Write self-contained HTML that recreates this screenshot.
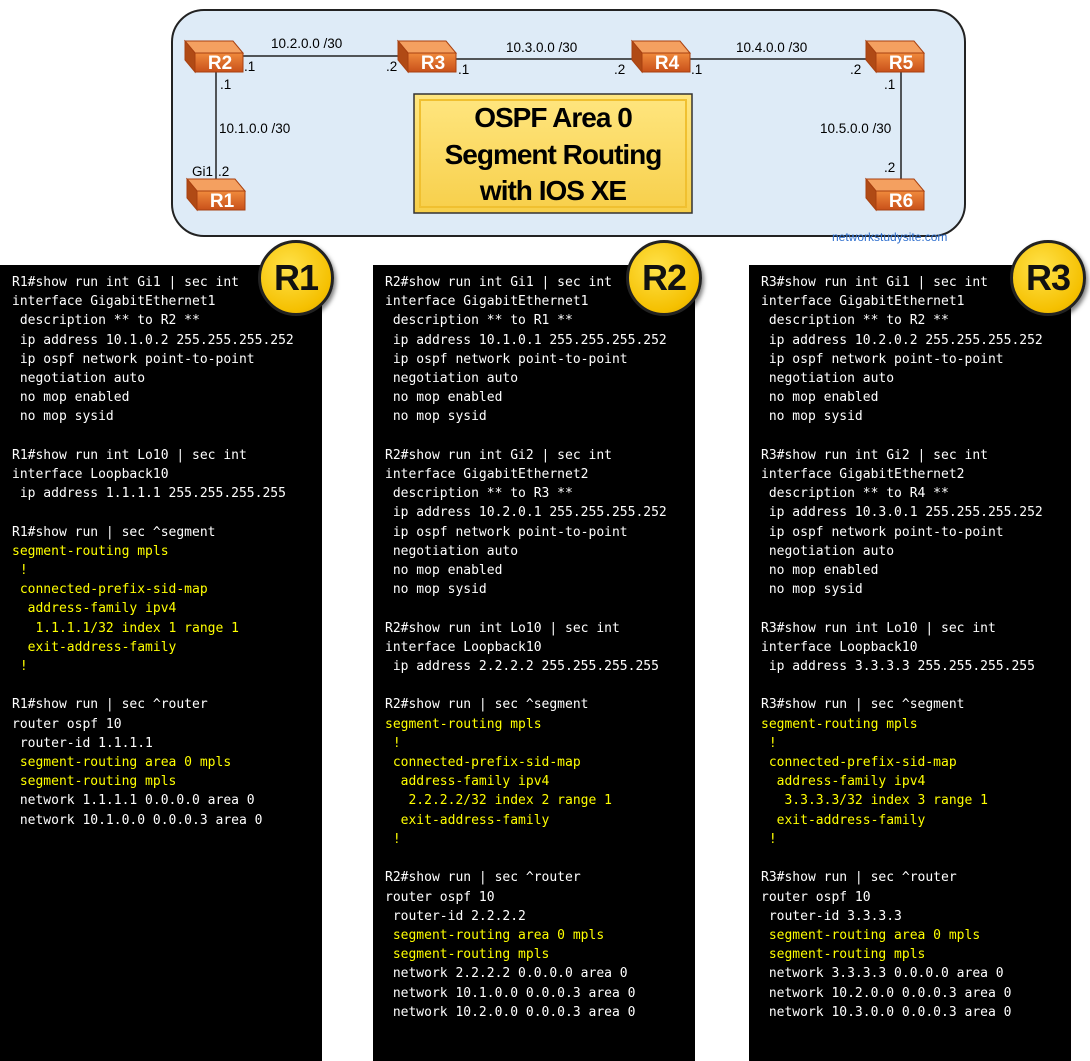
<!DOCTYPE html>
<html><head><meta charset="utf-8"><style>
body{margin:0;width:1090px;height:1061px;background:#fff;position:relative;overflow:hidden;font-family:"Liberation Sans",sans-serif}
.p{position:absolute;top:265px;height:796px;width:322px;background:#000}
pre{margin:0;position:absolute;left:12px;top:273px;font-family:"DejaVu Sans Mono","Liberation Mono",monospace;font-size:13px;line-height:19.2px;color:#fff}
.y{color:#ffff00}
.b{position:absolute;width:70px;height:70px;border-radius:50%;background:radial-gradient(circle at 40% 35%,#ffe24a,#f5c000 70%,#d9a000);border:3px solid #222;box-shadow:2px 3px 4px rgba(0,0,0,.5);font-size:36px;font-weight:bold;color:#111;text-align:center;line-height:70px;letter-spacing:-1px}
</style></head><body>
<svg width="1090" height="250" style="position:absolute;left:0;top:0">
<defs>
<linearGradient id="f" x1="0" y1="0" x2="0" y2="1"><stop offset="0" stop-color="#f08a3c"/><stop offset="1" stop-color="#c8501a"/></linearGradient>
<linearGradient id="yb" x1="0" y1="0" x2="0" y2="1"><stop offset="0" stop-color="#ffe680"/><stop offset="1" stop-color="#f7cf4a"/></linearGradient>
<g id="rt">
<polygon points="0,2 48,2 58,14 10,14" fill="#f4a060" stroke="#a84010" stroke-width="1"/>
<polygon points="0,2 10,14 10,33 0,21" fill="#b04a15" stroke="#a84010" stroke-width="1"/>
<rect x="10" y="14" width="48" height="19" fill="url(#f)" stroke="#a84010" stroke-width="1"/>
</g>
</defs>
<rect x="172" y="10" width="793" height="226" rx="32" fill="#deebf7" stroke="#222" stroke-width="2"/>
<g stroke="#222" stroke-width="1.5">
<line x1="240" y1="56" x2="402" y2="56"/><line x1="455" y1="59" x2="636" y2="59"/><line x1="688" y1="59" x2="870" y2="59"/>
<line x1="216" y1="70" x2="216" y2="182"/><line x1="901" y1="72" x2="901" y2="182"/>
</g>
<use href="#rt" x="185" y="39"/><use href="#rt" x="398" y="39"/><use href="#rt" x="632" y="39"/><use href="#rt" x="866" y="39"/>
<use href="#rt" x="187" y="177"/><use href="#rt" x="866" y="177"/>
<g fill="#fff" font-size="19" font-weight="bold" text-anchor="middle">
<text x="220" y="69">R2</text><text x="433" y="69">R3</text><text x="667" y="69">R4</text><text x="901" y="69">R5</text><text x="222" y="207">R1</text><text x="901" y="207">R6</text>
</g>
<g fill="#000" font-size="13.5">
<text x="271" y="48">10.2.0.0 /30</text><text x="506" y="52">10.3.0.0 /30</text><text x="736" y="52">10.4.0.0 /30</text>
<text x="219" y="133">10.1.0.0 /30</text><text x="820" y="133">10.5.0.0 /30</text>
<text x="244" y="71">.1</text><text x="386" y="71">.2</text><text x="458" y="74">.1</text><text x="614" y="74">.2</text><text x="691" y="74">.1</text><text x="850" y="74">.2</text>
<text x="220" y="89">.1</text><text x="884" y="89">.1</text><text x="192" y="176">Gi1</text><text x="218" y="176">.2</text><text x="884" y="172">.2</text>
</g>
<rect x="414" y="94" width="278" height="119" fill="url(#yb)" stroke="#333" stroke-width="1.5"/>
<rect x="420" y="100" width="266" height="107" fill="none" stroke="#f0c030" stroke-width="2"/>
<g fill="#000" font-size="28" font-weight="bold" text-anchor="middle" letter-spacing="-1">
<text x="553" y="127">OSPF Area 0</text><text x="553" y="164">Segment Routing</text><text x="553" y="200">with IOS XE</text>
</g>
<text x="832" y="241" fill="#2e6fcf" font-size="12">networkstudysite.com</text>
</svg>
<div class="p" style="left:0"></div>
<div class="p" style="left:373px"></div>
<div class="p" style="left:749px"></div>
<pre style="left:12px">R1#show run int Gi1 | sec int
interface GigabitEthernet1
 description ** to R2 **
 ip address 10.1.0.2 255.255.255.252
 ip ospf network point-to-point
 negotiation auto
 no mop enabled
 no mop sysid

R1#show run int Lo10 | sec int
interface Loopback10
 ip address 1.1.1.1 255.255.255.255

R1#show run | sec ^segment
<span class="y">segment-routing mpls
 !
 connected-prefix-sid-map
  address-family ipv4
   1.1.1.1/32 index 1 range 1
  exit-address-family
 !</span>

R1#show run | sec ^router
router ospf 10
 router-id 1.1.1.1
<span class="y"> segment-routing area 0 mpls
 segment-routing mpls</span>
 network 1.1.1.1 0.0.0.0 area 0
 network 10.1.0.0 0.0.0.3 area 0</pre>
<pre style="left:385px">R2#show run int Gi1 | sec int
interface GigabitEthernet1
 description ** to R1 **
 ip address 10.1.0.1 255.255.255.252
 ip ospf network point-to-point
 negotiation auto
 no mop enabled
 no mop sysid

R2#show run int Gi2 | sec int
interface GigabitEthernet2
 description ** to R3 **
 ip address 10.2.0.1 255.255.255.252
 ip ospf network point-to-point
 negotiation auto
 no mop enabled
 no mop sysid

R2#show run int Lo10 | sec int
interface Loopback10
 ip address 2.2.2.2 255.255.255.255

R2#show run | sec ^segment
<span class="y">segment-routing mpls
 !
 connected-prefix-sid-map
  address-family ipv4
   2.2.2.2/32 index 2 range 1
  exit-address-family
 !</span>

R2#show run | sec ^router
router ospf 10
 router-id 2.2.2.2
<span class="y"> segment-routing area 0 mpls
 segment-routing mpls</span>
 network 2.2.2.2 0.0.0.0 area 0
 network 10.1.0.0 0.0.0.3 area 0
 network 10.2.0.0 0.0.0.3 area 0</pre>
<pre style="left:761px">R3#show run int Gi1 | sec int
interface GigabitEthernet1
 description ** to R2 **
 ip address 10.2.0.2 255.255.255.252
 ip ospf network point-to-point
 negotiation auto
 no mop enabled
 no mop sysid

R3#show run int Gi2 | sec int
interface GigabitEthernet2
 description ** to R4 **
 ip address 10.3.0.1 255.255.255.252
 ip ospf network point-to-point
 negotiation auto
 no mop enabled
 no mop sysid

R3#show run int Lo10 | sec int
interface Loopback10
 ip address 3.3.3.3 255.255.255.255

R3#show run | sec ^segment
<span class="y">segment-routing mpls
 !
 connected-prefix-sid-map
  address-family ipv4
   3.3.3.3/32 index 3 range 1
  exit-address-family
 !</span>

R3#show run | sec ^router
router ospf 10
 router-id 3.3.3.3
<span class="y"> segment-routing area 0 mpls
 segment-routing mpls</span>
 network 3.3.3.3 0.0.0.0 area 0
 network 10.2.0.0 0.0.0.3 area 0
 network 10.3.0.0 0.0.0.3 area 0</pre>
<div class="b" style="left:258px;top:240px">R1</div>
<div class="b" style="left:626px;top:240px">R2</div>
<div class="b" style="left:1010px;top:240px">R3</div>
</body></html>
